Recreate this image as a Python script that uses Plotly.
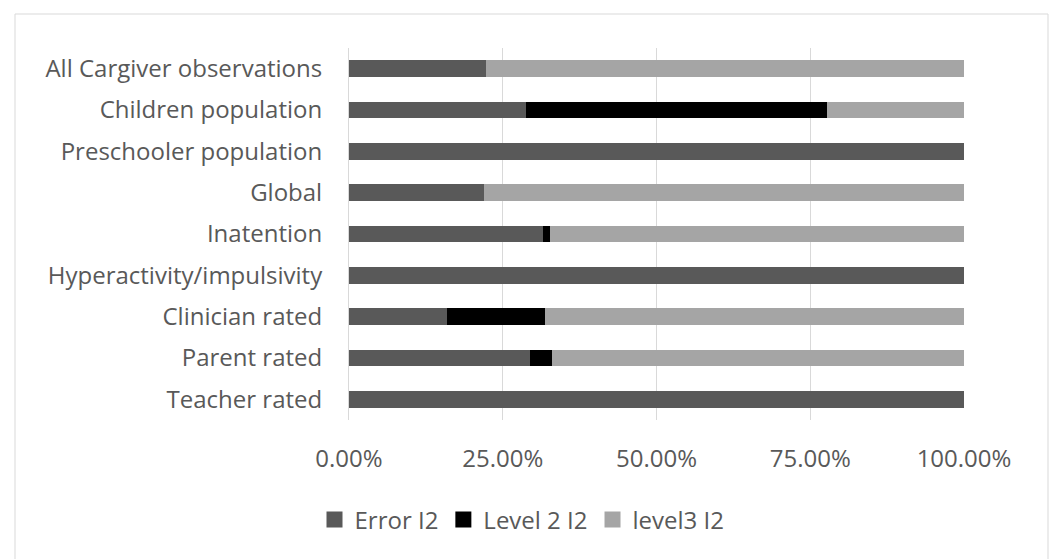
import plotly.graph_objects as go

# Share of heterogeneity (I2) by subgroup, in percent
categories = [
    "All Cargiver observations",
    "Children population",
    "Preschooler population",
    "Global",
    "Inatention",
    "Hyperactivity/impulsivity",
    "Clinician rated",
    "Parent rated",
    "Teacher rated",
]
error_i2 = [22.3, 28.7, 100.0, 22.0, 31.6, 100.0, 15.9, 29.5, 100.0]
level2_i2 = [0.0, 49.0, 0.0, 0.0, 1.1, 0.0, 16.0, 3.5, 0.0]
level3_i2 = [77.7, 22.3, 0.0, 78.0, 67.3, 0.0, 68.1, 67.0, 0.0]

series_names = ["Error I2", "Level 2 I2", "level3 I2"]
series_colors = ["#595959", "#000000", "#a5a5a5"]
x_ticks = [0, 25, 50, 75, 100]
x_tick_labels = [f"{v:.2f}%" for v in x_ticks]

FONT = "Open Sans"
FONT_SIZE = 24
TEXT_COLOR = "#595959"

W, H = 1052, 559
PLOT_L, PLOT_R, PLOT_T, PLOT_B = 349, 964, 48, 420
PW, PH = PLOT_R - PLOT_L, PLOT_B - PLOT_T


def px_to_paper_x(px):
    return (px - PLOT_L) / PW


def px_to_paper_y(py):
    return (PLOT_B - py) / PH


fig = go.Figure()
for name, values, color in zip(series_names, [error_i2, level2_i2, level3_i2], series_colors):
    fig.add_trace(go.Bar(
        y=categories,
        x=values,
        name=name,
        orientation="h",
        marker=dict(color=color, line=dict(width=0)),
        hoverinfo="skip",
        showlegend=False,
    ))

# Legend entries with larger square swatches
for name, color in zip(series_names, series_colors):
    fig.add_trace(go.Scatter(
        x=[None],
        y=[None],
        mode="markers",
        name=name,
        marker=dict(symbol="square", size=16, color=color, line=dict(width=0)),
        hoverinfo="skip",
        showlegend=True,
    ))

fig.update_layout(
    width=W,
    height=H,
    barmode="stack",
    bargap=0.59,
    paper_bgcolor="white",
    plot_bgcolor="white",
    margin=dict(l=PLOT_L, r=W - PLOT_R, t=PLOT_T, b=H - PLOT_B, pad=0),
    font=dict(family=FONT, size=FONT_SIZE, color=TEXT_COLOR),
    showlegend=True,
    legend=dict(
        orientation="h",
        x=px_to_paper_x(522),
        xanchor="center",
        y=px_to_paper_y(520),
        yanchor="middle",
        font=dict(family=FONT, size=FONT_SIZE, color=TEXT_COLOR),
        itemwidth=30,
        traceorder="normal",
        bgcolor="rgba(0,0,0,0)",
    ),
    xaxis=dict(
        range=[0, 100],
        tickvals=x_ticks,
        ticktext=x_tick_labels,
        showgrid=True,
        gridcolor="#d9d9d9",
        gridwidth=1,
        zeroline=False,
        showline=False,
        ticks="",
        ticklabelstandoff=22,
        tickfont=dict(family=FONT, size=FONT_SIZE, color=TEXT_COLOR),
        fixedrange=True,
    ),
    yaxis=dict(
        autorange="reversed",
        categoryorder="array",
        categoryarray=categories,
        showgrid=False,
        showline=True,
        linecolor="#d9d9d9",
        linewidth=1,
        ticks="",
        ticklabelstandoff=21,
        tickfont=dict(family=FONT, size=FONT_SIZE, color=TEXT_COLOR),
        fixedrange=True,
    ),
    shapes=[
        # chart frame (bottom edge runs past the page)
        dict(
            type="rect",
            xref="paper", yref="paper",
            x0=px_to_paper_x(15),
            x1=px_to_paper_x(1048),
            y0=px_to_paper_y(H + 20),
            y1=px_to_paper_y(14),
            line=dict(color="#d9d9d9", width=1),
            fillcolor="rgba(0,0,0,0)",
            layer="below",
        )
    ],
)

fig.write_html("out.html")
